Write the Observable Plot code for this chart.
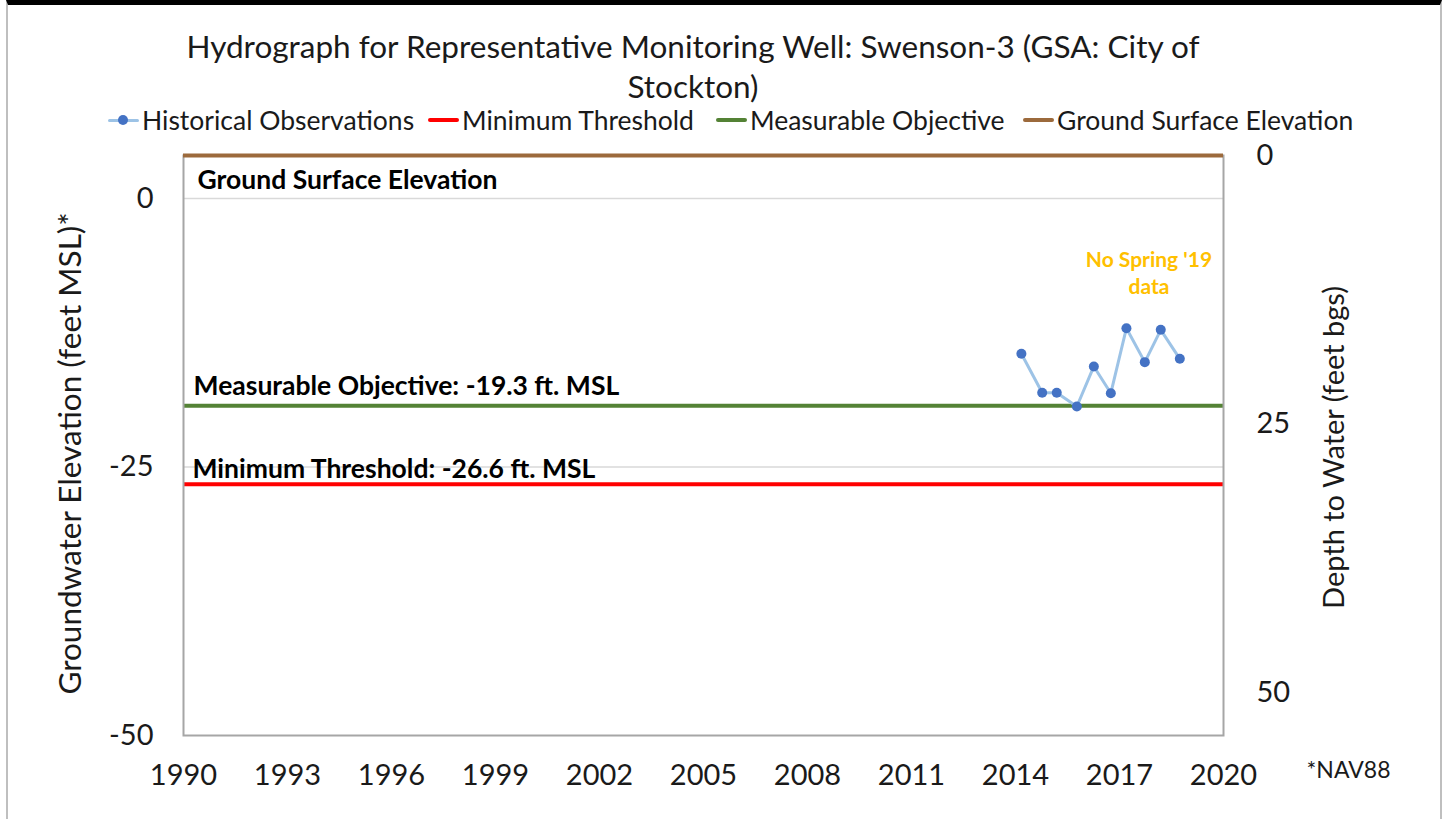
<!DOCTYPE html>
<html>
<head>
<meta charset="utf-8">
<script src="https://cdn.jsdelivr.net/npm/d3@7"></script>
<script src="https://cdn.jsdelivr.net/npm/@observablehq/plot@0.6"></script>
<style>
  html, body { margin: 0; padding: 0; background: #fff; }
  body { width: 1450px; height: 819px; overflow: hidden; font-family: Lato, "Open Sans", sans-serif; }
  #wrap { position: relative; width: 1450px; height: 819px; }
  #frame { position: absolute; left: 6px; top: 0; width: 1436px; height: 830px; border-left: 2px solid #bfbfbf; border-right: 2px solid #bfbfbf; border-top: 5px solid #000; box-sizing: border-box; pointer-events: none; }
  #title { position: absolute; left: 143px; width: 1100px; top: 26px; text-align: center; font-size: 31.5px; line-height: 40px; color: #1a1a1a; }
  #legend { position: absolute; top: 104px; left: 0; width: 1450px; height: 34px; }
  .li { position: absolute; top: 0; display: flex; align-items: center; font-size: 26.5px; color: #1a1a1a; white-space: nowrap; }
  .sw { display: inline-block; width: 31px; height: 4px; margin-right: 3px; position: relative; border-radius: 2px; }
  .dot { position: absolute; left: 10px; top: -4px; width: 10px; height: 10px; border-radius: 50%; background: #4472c4; }
  #chart { position: absolute; left: 0; top: 0; }
</style>
</head>
<body>
<div id="wrap">
  <div id="chart"></div>
  <div id="title">Hydrograph for Representative Monitoring Well: Swenson-3 (GSA: City of<br>Stockton)</div>
  <div id="legend"></div>
  <div id="frame"></div>
</div>
<script>
// ---- data ----
const obsYears = [2014.17, 2014.77, 2015.19, 2015.77, 2016.26, 2016.75, 2017.2, 2017.73, 2018.19, 2018.74];
const obsElev  = [-14.46, -18.09, -18.09, -19.37, -15.64, -18.13, -12.08, -15.24, -12.23, -14.93];
const groundSurface = 4;
const measurableObjective = -19.3;
const minimumThreshold = -26.6;
const xTicks = [1990, 1993, 1996, 1999, 2002, 2005, 2008, 2011, 2014, 2017, 2020];
const yTicks = [0, -25, -50];
const depthTicks = [0, 25, 50];
const legendNames = ["Historical Observations", "Minimum Threshold", "Measurable Objective", "Ground Surface Elevation"];
const legendColors = ["#9dc3e6", "#ff0000", "#548235", "#9c6a3c"];
const legendLeft = [108, 428, 716, 1023];

const obs = obsYears.map((x, i) => ({x, y: obsElev[i]}));

const font = "Lato, 'Open Sans', sans-serif";

const chart = Plot.plot({
  width: 1450,
  height: 819,
  marginTop: 155,
  marginBottom: 84,
  marginLeft: 183,
  marginRight: 227,
  style: {fontFamily: font, fontSize: "29px", color: "#1a1a1a", background: "transparent"},
  x: {domain: [1990, 2020], axis: null},
  y: {domain: [-50, groundSurface], axis: null},
  marks: [
    Plot.ruleY([0, -25], {stroke: "#d9d9d9", strokeWidth: 1.5}),
    Plot.ruleY([minimumThreshold], {stroke: legendColors[1], strokeWidth: 4}),
    Plot.ruleY([measurableObjective], {stroke: legendColors[2], strokeWidth: 4}),
    Plot.frame({stroke: "#a6a6a6", strokeWidth: 2}),
    Plot.ruleY([groundSurface], {stroke: legendColors[3], strokeWidth: 4}),
    Plot.line(obs, {x: "x", y: "y", stroke: legendColors[0], strokeWidth: 3}),
    Plot.dot(obs, {x: "x", y: "y", r: 5, fill: "#4472c4", stroke: "none"}),
    Plot.axisX(xTicks, {anchor: "bottom", tickSize: 0, tickPadding: 29, tickFormat: d => String(d), fontSize: 29, label: null}),
    Plot.axisY(yTicks, {anchor: "left", tickSize: 0, tickPadding: 30, fontSize: 29, tickFormat: d => String(d), label: null}),
    Plot.axisY(depthTicks.map(d => groundSurface - d), {anchor: "right", tickSize: 0, tickPadding: 33, fontSize: 29, tickFormat: d => String(groundSurface - d), label: null}),
    Plot.text(["Groundwater Elevation (feet MSL)*"], {frameAnchor: "left", dx: -113, dy: 8, rotate: -90, textAnchor: "middle", lineAnchor: "middle", fontSize: 31.5}),
    Plot.text(["Depth to Water (feet bgs)"], {frameAnchor: "right", dx: 111, dy: 2, rotate: -90, textAnchor: "middle", lineAnchor: "middle", fontSize: 29}),
    Plot.text(["Ground Surface Elevation"], {x: 1990, y: groundSurface, dx: 14, dy: 25, textAnchor: "start", lineAnchor: "middle", fontSize: 26.5, fontWeight: "bold", fill: "#000"}),
    Plot.text([`Measurable Objective: ${measurableObjective} ft. MSL`], {x: 1990, y: measurableObjective, dx: 10, dy: -19, textAnchor: "start", lineAnchor: "middle", fontSize: 26.5, fontWeight: "bold", fill: "#000"}),
    Plot.text([`Minimum Threshold: ${minimumThreshold} ft. MSL`], {x: 1990, y: minimumThreshold, dx: 9, dy: -15, textAnchor: "start", lineAnchor: "middle", fontSize: 26.5, fontWeight: "bold", fill: "#000"}),
    Plot.text(["No Spring '19\ndata"], {x: 2017.85, y: -6.8, fontSize: 21, fontWeight: "bold", fill: "#ffc000", lineHeight: 1.3}),
    Plot.text(["*NAV88"], {frameAnchor: "bottom-right", dx: 167, dy: 35, textAnchor: "end", lineAnchor: "middle", fontSize: 23})
  ]
});
document.getElementById("chart").appendChild(chart);

const leg = document.getElementById("legend");
legendNames.forEach((name, i) => {
  const el = document.createElement("div");
  el.className = "li";
  el.style.left = legendLeft[i] + "px";
  const sw = document.createElement("span");
  sw.className = "sw";
  sw.style.background = legendColors[i];
  if (i === 0) { sw.style.height = "3px"; const d = document.createElement("span"); d.className = "dot"; sw.appendChild(d); }
  el.appendChild(sw);
  const t = document.createElement("span");
  t.textContent = name;
  el.appendChild(t);
  leg.appendChild(el);
});
</script>
</body>
</html>
